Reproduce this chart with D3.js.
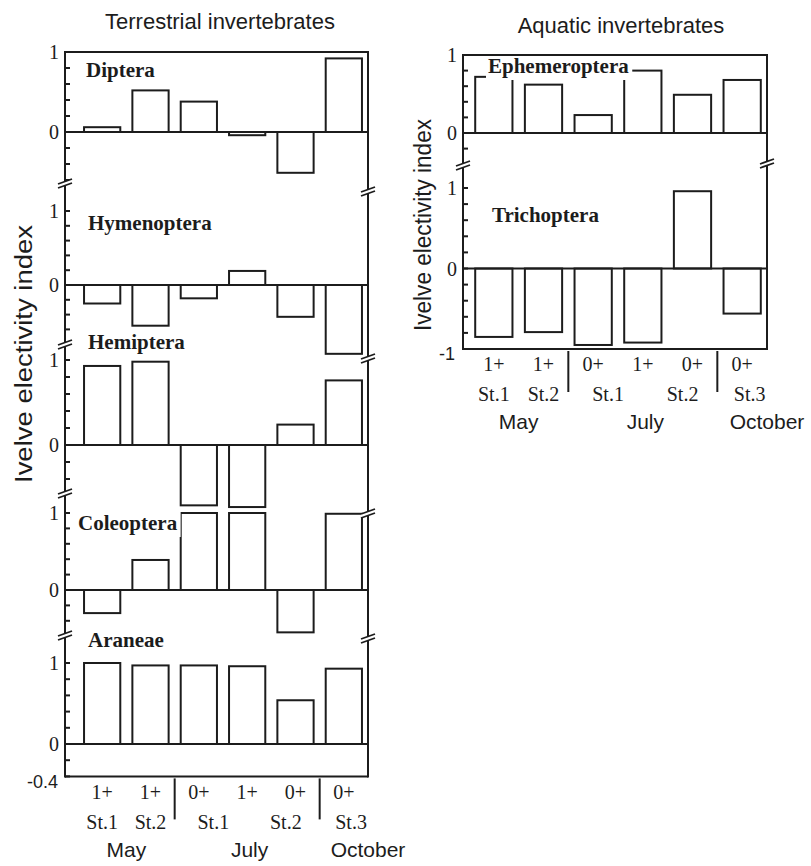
<!DOCTYPE html>
<html>
<head>
<meta charset="utf-8">
<script src="https://cdn.jsdelivr.net/npm/d3@7"></script>
<style>
  body { margin: 0; background: #fff; }
</style>
</head>
<body>
<script>
// Ivlev electivity index per sample column
var groups = ["May 1+ St.1", "May 1+ St.2", "July 0+ St.1", "July 1+ St.1", "July 0+ St.2", "October 0+ St.3"];

var diptera       = [0.06, 0.52, 0.38, -0.04, -0.51, 0.92];
var hymenoptera   = [-0.25, -0.55, -0.18, 0.19, -0.43, -0.93];
var hemiptera     = [0.93, 0.98, -0.71, -0.73, 0.24, 0.76];
var coleoptera    = [-0.30, 0.39, 1.00, 1.00, -0.55, 0.99];
var araneae       = [1.00, 0.97, 0.97, 0.96, 0.54, 0.93];
var ephemeroptera = [0.72, 0.62, 0.23, 0.80, 0.49, 0.68];
var trichoptera   = [-0.85, -0.79, -0.95, -0.92, 0.96, -0.56];

// x tick labels, "at" is in column units
var ageLabels = ["1+", "1+", "0+", "1+", "0+", "0+"];
var siteLabels = ["St.1", "St.2", "St.1", "St.2", "St.3"];
var siteAt = [0, 1, 2.3, 3.8, 5.15];
var monthLabels = ["May", "July", "October"];
var monthAt = [0.5, 3.05, 5.5];
var monthBreaks = [1.5, 4.5];

var ink = "#1c1c1c",
    serif = "'Liberation Serif', 'DejaVu Serif', serif",
    sans = "'Liberation Sans', Arial, sans-serif";

var svg = d3.select("body").append("svg")
    .attr("width", 811).attr("height", 866);

// layout of the two figures
var terrestrial = {
  title: "Terrestrial invertebrates", titleX: 220, titleY: 29,
  left: 65, right: 368, bandLeft: 78, top: 52,
  ylabX: 24, ylabY: 354, ylabLen: 258,
  bottomVal: -0.4, bottomLabel: "-0.4", bottomLabelX: 58,
  labelDy: [23, 53, 81],
  panels: [
    { name: "Diptera", values: diptera, one: 52, zero: 132, brk: [185, 193], nameX: 86, nameY: 77 },
    { name: "Hymenoptera", values: hymenoptera, one: 211, zero: 285, brk: [346, 360], nameX: 88, nameY: 230 },
    { name: "Hemiptera", values: hemiptera, one: 360, zero: 445, brk: [495, 515], nameX: 88, nameY: 349 },
    { name: "Coleoptera", values: coleoptera, one: 513, zero: 590, brk: [637, 640], nameX: 78, nameY: 530 },
    { name: "Araneae", values: araneae, one: 663, zero: 744, nameX: 88, nameY: 647 }
  ]
};

var aquatic = {
  title: "Aquatic invertebrates", titleX: 621, titleY: 33,
  left: 463, right: 767, bandLeft: 469, top: 55,
  ylabX: 423, ylabY: 225, ylabLen: 212,
  bottomVal: -1, bottomLabel: "-1", bottomLabelX: 455,
  labelDy: [22, 52, 80],
  panels: [
    { name: "Ephemeroptera", values: ephemeroptera, one: 55, zero: 133, brk: [167, 165], nameX: 488, nameY: 73 },
    { name: "Trichoptera", values: trichoptera, one: 188, zero: 268.5, nameX: 492, nameY: 222 }
  ]
};

drawFigure(terrestrial);
drawFigure(aquatic);

function drawFigure(cfg) {
  var g = svg.append("g");

  var x = d3.scaleBand()
      .domain(d3.range(groups.length))
      .range([cfg.bandLeft, cfg.right])
      .paddingInner(0.25).paddingOuter(0.125);
  var xAt = function(a) { return cfg.bandLeft + x.step() * (a + 0.5); };

  var scales = cfg.panels.map(function(p) {
    return d3.scaleLinear().domain([0, 1]).range([p.zero, p.one]);
  });
  var last = scales[scales.length - 1],
      bottom = last(cfg.bottomVal);

  // bars
  cfg.panels.forEach(function(p, pi) {
    var y = scales[pi];
    g.append("g").selectAll("rect")
        .data(p.values)
        .enter().append("rect")
        .attr("x", function(d, i) { return x(i); })
        .attr("width", x.bandwidth())
        .attr("y", function(d) { return Math.min(y(d), y(0)); })
        .attr("height", function(d) { return Math.abs(y(d) - y(0)); })
        .attr("fill", "none")
        .attr("stroke", ink).attr("stroke-width", 2);

    g.append("line")
        .attr("x1", cfg.left).attr("x2", cfg.right)
        .attr("y1", y(0)).attr("y2", y(0))
        .attr("stroke", ink).attr("stroke-width", 2);
  });

  // panel names, white box behind them like in the print
  cfg.panels.forEach(function(p) {
    var t = g.append("text")
        .attr("x", p.nameX).attr("y", p.nameY)
        .style("font-family", serif).style("font-size", "21px").style("font-weight", "bold")
        .attr("fill", ink)
        .text(p.name);
    var bb = t.node().getBBox();
    g.insert("rect", function() { return t.node(); })
        .attr("x", bb.x - 2).attr("y", bb.y)
        .attr("width", bb.width + 5).attr("height", bb.height + 2)
        .attr("fill", "#fff");
  });

  // frame
  g.append("line").attr("x1", cfg.left).attr("x2", cfg.right)
      .attr("y1", cfg.top).attr("y2", cfg.top);
  g.append("line").attr("x1", cfg.left).attr("x2", cfg.right)
      .attr("y1", bottom).attr("y2", bottom);
  g.append("line").attr("x1", cfg.left).attr("x2", cfg.left)
      .attr("y1", cfg.top - 1).attr("y2", bottom + 1);
  g.append("line").attr("x1", cfg.right).attr("x2", cfg.right)
      .attr("y1", cfg.top - 1).attr("y2", bottom + 1);
  g.selectAll("line").attr("stroke", ink).attr("stroke-width", 2);

  // ticks every 0.2, inside the axis, and the 1 / 0 labels
  cfg.panels.forEach(function(p, pi) {
    var y = scales[pi],
        upper = pi === 0 ? cfg.top - 1 : cfg.panels[pi - 1].brk[0] + 4,
        lower = p.brk ? p.brk[0] - 4 : bottom + 1;
    var ticks = d3.range(-5, 6).map(function(k) { return k / 5; })
        .filter(function(t) { return y(t) >= upper && y(t) <= lower; });

    g.append("g").selectAll("line")
        .data(ticks)
        .enter().append("line")
        .attr("x1", cfg.left).attr("x2", cfg.left + 5)
        .attr("y1", function(d) { return y(d); })
        .attr("y2", function(d) { return y(d); })
        .attr("stroke", ink).attr("stroke-width", 2);

    g.append("g").selectAll("text")
        .data([1, 0])
        .enter().append("text")
        .attr("x", cfg.left - 6)
        .attr("y", function(d) { return y(d); })
        .attr("dy", "0.35em")
        .attr("text-anchor", "end")
        .style("font-family", serif).style("font-size", "20px")
        .attr("fill", ink)
        .text(function(d) { return d; });
  });

  g.append("text")
      .attr("x", cfg.bottomLabelX).attr("y", bottom + 5)
      .attr("dy", "0.35em")
      .attr("text-anchor", "end")
      .style("font-family", sans).style("font-size", "18px")
      .attr("fill", ink)
      .text(cfg.bottomLabel);

  // axis breaks
  var breaks = [];
  cfg.panels.forEach(function(p) {
    if (p.brk) {
      breaks.push({ x: cfg.left, y: p.brk[0] });
      breaks.push({ x: cfg.right, y: p.brk[1] });
    }
  });
  var bk = g.append("g").selectAll("g")
      .data(breaks)
      .enter().append("g")
      .attr("transform", function(d) { return "translate(" + d.x + "," + d.y + ")"; });
  bk.append("polygon")
      .attr("points", "-7,-1 7,-6 7,-2 -7,3")
      .attr("fill", "#fff");
  bk.append("line").attr("x1", -7).attr("y1", -1).attr("x2", 7).attr("y2", -6);
  bk.append("line").attr("x1", -7).attr("y1", 3).attr("x2", 7).attr("y2", -2);
  bk.selectAll("line").attr("stroke", ink).attr("stroke-width", 1.8);

  // x labels
  g.append("g").selectAll("text")
      .data(ageLabels)
      .enter().append("text")
      .attr("x", function(d, i) { return xAt(i); })
      .attr("y", bottom + cfg.labelDy[0])
      .attr("text-anchor", "middle")
      .style("font-family", serif).style("font-size", "20px")
      .attr("fill", ink)
      .text(function(d) { return d; });

  g.append("g").selectAll("text")
      .data(siteLabels)
      .enter().append("text")
      .attr("x", function(d, i) { return xAt(siteAt[i]); })
      .attr("y", bottom + cfg.labelDy[1])
      .attr("text-anchor", "middle")
      .style("font-family", serif).style("font-size", "20px")
      .attr("fill", ink)
      .text(function(d) { return d; });

  g.append("g").selectAll("text")
      .data(monthLabels)
      .enter().append("text")
      .attr("x", function(d, i) { return xAt(monthAt[i]); })
      .attr("y", bottom + cfg.labelDy[2])
      .attr("text-anchor", "middle")
      .style("font-family", sans).style("font-size", "21px")
      .attr("fill", ink)
      .text(function(d) { return d; });

  g.append("g").selectAll("line")
      .data(monthBreaks)
      .enter().append("line")
      .attr("x1", function(d) { return xAt(d); })
      .attr("x2", function(d) { return xAt(d); })
      .attr("y1", bottom + 2).attr("y2", bottom + 43)
      .attr("stroke", ink).attr("stroke-width", 2);

  // titles
  g.append("text")
      .attr("x", cfg.titleX).attr("y", cfg.titleY)
      .attr("text-anchor", "middle")
      .style("font-family", sans).style("font-size", "22px")
      .attr("fill", ink)
      .text(cfg.title);

  g.append("text")
      .attr("transform", "translate(" + cfg.ylabX + "," + cfg.ylabY + ") rotate(-90)")
      .attr("text-anchor", "middle")
      .attr("dy", "0.35em")
      .attr("textLength", cfg.ylabLen)
      .attr("lengthAdjust", "spacingAndGlyphs")
      .style("font-family", sans).style("font-size", "23px")
      .attr("fill", ink)
      .text("Ivelve electivity index");
}
</script>
</body>
</html>
